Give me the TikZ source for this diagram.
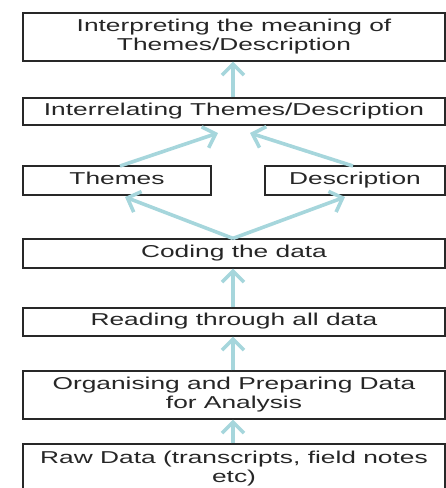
\documentclass[tikz,border=0pt]{standalone}
\usepackage{fontspec}
\setmainfont{Liberation Sans}
\usetikzlibrary{arrows.meta}
\definecolor{flowline}{RGB}{166,214,220}
\definecolor{boxline}{RGB}{40,40,40}
% labels are set wide: stretched horizontally
\newcommand{\widelabel}[1]{\scalebox{1.53}[1]{\begin{tabular}{@{}c@{}}#1\end{tabular}}}
\begin{document}
\begin{tikzpicture}[x=1pt,y=1pt,
  stage/.style={draw=boxline, line width=1.2pt, minimum width=422pt, inner sep=0pt,
    align=center, font=\fontsize{17.2}{20}\selectfont, text=black!85},
  half/.style={stage, minimum width=#1},
  flow/.style={draw=flowline, line width=3.6pt,
    -{Straight Barb[length=11pt,width=22pt,line width=3.6pt]}}]
\useasboundingbox (0,0) rectangle (446,-488);
\renewcommand{\arraystretch}{0.98}
\begin{scope}
\clip (0,0) rectangle (446,-488);
\node[stage, minimum height=48pt] (interp) at (234,-37) {\widelabel{Interpreting the meaning of\\Themes/Description}};
\node[stage, minimum height=27pt] (inter) at (234,-111.5) {\widelabel{Interrelating Themes/Description}};
\node[half=188pt, minimum height=29pt] (themes) at (117,-180.5) {\widelabel{Themes}};
\node[half=180pt, minimum height=29pt] (desc) at (355,-180.5) {\widelabel{Description}};
\node[stage, minimum height=29pt] (coding) at (234,-253.5) {\widelabel{Coding the data}};
\node[stage, minimum height=28pt] (reading) at (234,-322) {\widelabel{Reading through all data}};
\node[stage, minimum height=48pt] (organ) at (234,-395) {\widelabel{Organising and Preparing Data\\for Analysis}};
\node[stage, minimum height=50pt] (raw) at (234,-469) {\widelabel{Raw Data (transcripts, field notes\\etc)}};
\end{scope}
% arrow end points that stop short of the boxes
\coordinate (interL) at (218,-133);
\coordinate (interR) at (250,-133);
\coordinate (themesB) at (125,-197);
\coordinate (descB) at (345,-197);
\coordinate (themesT) at (120,-166);
\coordinate (descT) at (353,-166);
\draw[flow] (inter.north -| 233,0) -- (interp.south -| 233,0);
\draw[flow] (themesT) -- (interL);
\draw[flow] (descT) -- (interR);
\draw[flow] (coding.north -| 233,0) -- (themesB);
\draw[flow] (coding.north -| 233,0) -- (descB);
\draw[flow] (reading.north -| 233,0) -- (coding.south -| 233,0);
\draw[flow] (organ.north -| 233,0) -- (reading.south -| 233,0);
\draw[flow] (raw.north -| 233,0) -- (organ.south -| 233,0);
\end{tikzpicture}
\end{document}
